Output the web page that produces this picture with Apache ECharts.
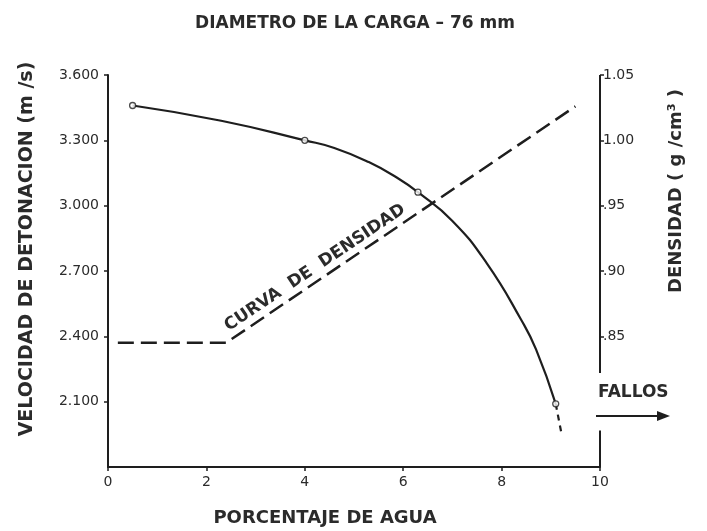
<!DOCTYPE html>
<html>
<head>
<meta charset="utf-8">
<script src="https://cdn.jsdelivr.net/npm/echarts@6/dist/echarts.min.js"></script>
<style>
html, body { margin: 0; padding: 0; background: #fff; }
#chart { width: 707px; height: 531px; }
</style>
</head>
<body>
<div id="chart"></div>
<script>
// velocidad de detonacion medida (m/s) vs % agua
var waterPct = [0.5, 4.0, 6.3, 9.1];
var velocity = [3460, 3300, 3062, 2090];
// trazado de la curva
var curvePct = [0.5, 2.3, 4.0, 4.6, 5.3, 5.9, 6.3, 7.0, 7.7, 8.4, 8.7, 9.1];
var curveVel = [3460, 3390, 3300, 3265, 3200, 3125, 3062, 2930, 2735, 2475, 2340, 2090];
// tramo a trazos hacia los fallos
var tailPct = [9.1, 9.22];
var tailVel = [2090, 1950];
// curva de densidad (g/cm3)
var densPct = [0.2, 2.4, 9.5];
var density = [0.845, 0.845, 1.026];

var pctTicks = [0, 2, 4, 6, 8, 10];
var velTicks = [2100, 2400, 2700, 3000, 3300, 3600];
var velLabels = ['2.100', '2.400', '2.700', '3.000', '3.300', '3.600'];
var densTicks = [0.85, 0.90, 0.95, 1.00, 1.05];
var densLabels = ['.85', '.90', '.95', '1.00', '1.05'];

var ink = '#1e1e1e';
var txt = '#2b2b2b';
var font = 'DejaVu Sans';

function pairs(xs, ys) {
    var out = [];
    for (var i = 0; i < xs.length; i++) out.push([xs[i], ys[i]]);
    return out;
}
function pick(ticks, labels, v) {
    for (var i = 0; i < ticks.length; i++) {
        if (Math.abs(ticks[i] - v) < 1e-6) return labels[i];
    }
    return '';
}
function centered(x, y, text, size, rot) {
    return {
        type: 'text', x: x, y: y, rotation: rot || 0,
        style: { text: text, fill: txt, font: 'bold ' + size + 'px "DejaVu Sans"',
                 align: 'center', verticalAlign: 'middle', textAlign: 'center', textVerticalAlign: 'middle' }
    };
}

var chart = echarts.init(document.getElementById('chart'));
chart.setOption({
    animation: false,
    backgroundColor: '#fff',
    grid: { left: 108, right: 107, top: 75, bottom: 64 },
    xAxis: {
        type: 'value', min: 0, max: 10, interval: 2,
        splitLine: { show: false },
        axisLine: { lineStyle: { color: ink, width: 2 } },
        axisTick: { length: 4, lineStyle: { color: ink, width: 1.5 } },
        axisLabel: { color: txt, fontFamily: font, fontSize: 14, margin: 8 }
    },
    yAxis: [{
        type: 'value', min: 1800, max: 3600, interval: 300,
        splitLine: { show: false },
        axisLine: { show: true, lineStyle: { color: ink, width: 2 } },
        axisTick: { show: true, length: 4, customValues: velTicks, lineStyle: { color: ink, width: 1.5 } },
        axisLabel: {
            color: txt, fontFamily: font, fontSize: 14, margin: 9,
            customValues: velTicks,
            formatter: function (v) { return pick(velTicks, velLabels, v); }
        }
    }, {
        type: 'value', min: 0.75, max: 1.05, interval: 0.05, position: 'right',
        splitLine: { show: false },
        axisLine: { show: false },
        axisTick: { show: true, length: 4, customValues: densTicks, lineStyle: { color: ink, width: 1.5 } },
        axisLabel: {
            color: txt, fontFamily: font, fontSize: 14, margin: 3,
            customValues: densTicks,
            formatter: function (v) { return pick(densTicks, densLabels, v); }
        }
    }],
    series: [{
        // eje derecho interrumpido en la zona de fallos
        type: 'line', yAxisIndex: 1, silent: true, symbol: 'none',
        lineStyle: { color: ink, width: 2 },
        data: [[10, 0.822], [10, 1.05], null, [10, 0.75], [10, 0.778]],
        connectNulls: false
    }, {
        type: 'line', yAxisIndex: 0, silent: true, symbol: 'none',
        smooth: 0.5,
        lineStyle: { color: ink, width: 2.2 },
        data: pairs(curvePct, curveVel),
        z: 3
    }, {
        type: 'line', yAxisIndex: 0, silent: true, symbol: 'none',
        lineStyle: { color: ink, width: 2.2, type: [6, 5] },
        data: pairs(tailPct, tailVel)
    }, {
        type: 'scatter', yAxisIndex: 0, silent: true,
        symbol: 'circle', symbolSize: 6,
        itemStyle: { color: '#fff', borderColor: ink, borderWidth: 1.3 },
        data: pairs(waterPct, velocity),
        z: 5
    }, {
        type: 'line', yAxisIndex: 1, silent: true, symbol: 'none',
        lineStyle: { color: ink, width: 2.5, type: [16, 7] },
        data: pairs(densPct, density),
        markLine: {
            silent: true, symbol: ['none', 'none'],
            lineStyle: { color: 'rgba(0,0,0,0)', width: 0 },
            label: {
                show: true, position: 'insideMiddleTop', distance: 4,
                formatter: 'CURVA  DE  DENSIDAD',
                color: txt, fontFamily: font, fontWeight: 'bold', fontSize: 17
            },
            data: [[{ coord: [2.4, 0.845] }, { coord: [6.3, 0.944] }]]
        }
    }],
    graphic: [
        centered(355, 24, 'DIAMETRO DE LA CARGA – 76 mm', 17),
        centered(27, 249, 'VELOCIDAD DE DETONACION (m /s)', 19, Math.PI / 2),
        centered(676, 191, 'DENSIDAD ( g /cm³ )', 18, Math.PI / 2),
        centered(325, 518, 'PORCENTAJE DE AGUA', 18),
        {
            type: 'text', x: 598, y: 393,
            style: { text: 'FALLOS', fill: txt, font: 'bold 17px "DejaVu Sans"',
                     align: 'left', verticalAlign: 'middle', textAlign: 'left', textVerticalAlign: 'middle' }
        }, {
            type: 'line', shape: { x1: 596, y1: 416, x2: 660, y2: 416 },
            style: { stroke: ink, lineWidth: 2 }
        }, {
            type: 'polygon', shape: { points: [[657, 411], [670, 416], [657, 421]] },
            style: { fill: ink }
        }
    ]
});
</script>
</body>
</html>
